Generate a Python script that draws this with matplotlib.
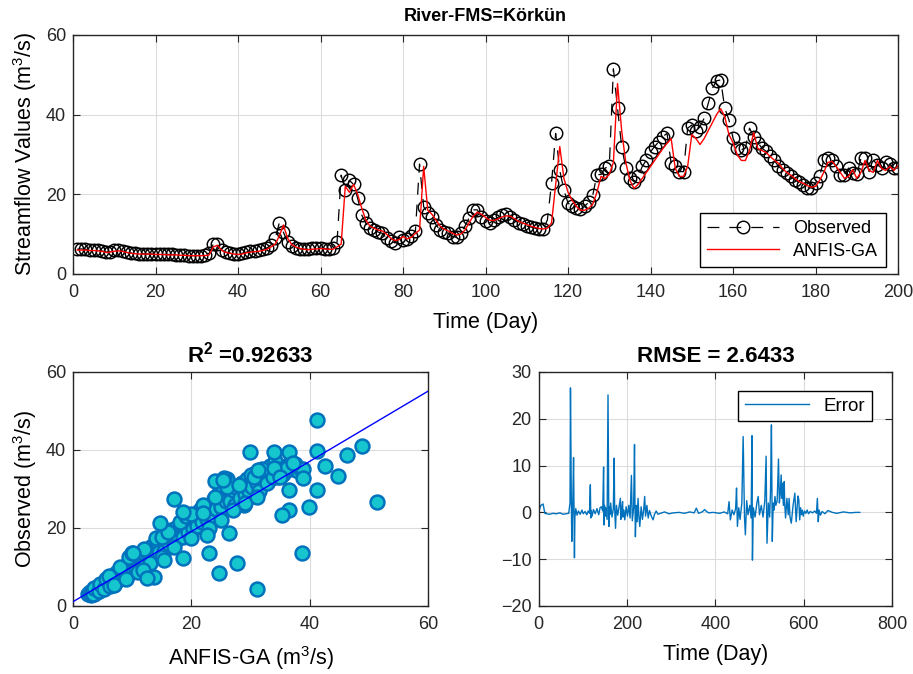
import matplotlib
matplotlib.use("Agg")
import matplotlib.pyplot as plt

plt.rcParams["font.family"] = ["Liberation Sans", "DejaVu Sans"]
plt.rcParams["mathtext.fontset"] = "custom"
plt.rcParams["mathtext.rm"] = "Liberation Sans"
plt.rcParams["mathtext.bf"] = "Liberation Sans:bold"

# ----------------------------------------------------------------------
# data
# ----------------------------------------------------------------------
days = list(range(1, 201))

observed = [
    6.2, 6.3, 6.2, 6.0, 6.1, 6.0, 5.8, 5.5, 5.6, 5.9,
    6.0, 5.8, 5.4, 5.3, 5.2, 5.1, 5.1, 5.0, 5.0, 5.0,
    5.0, 4.9, 4.9, 4.9, 4.8, 4.8, 4.7, 4.6, 4.6, 4.6,
    4.6, 4.7, 5.2, 7.5, 7.6, 6.0, 5.5, 5.3, 5.0, 4.9,
    5.2, 5.5, 5.7, 5.8, 5.9, 6.2, 6.5, 7.3, 9.0, 12.8,
    10.5, 8.0, 7.0, 6.6, 6.3, 6.2, 6.2, 6.4, 6.5, 6.5,
    6.3, 6.3, 6.5, 8.0, 24.8, 21.0, 23.5, 22.5, 19.0, 14.8,
    12.7, 11.5, 11.1, 10.5, 10.2, 9.0, 8.3, 7.8, 9.2, 8.6,
    8.8, 9.5, 10.8, 27.6, 16.9, 15.2, 14.4, 12.3, 11.1, 10.6,
    10.2, 9.4, 9.2, 10.2, 12.0, 14.0, 16.1, 16.1, 14.4, 13.2,
    12.8, 13.5, 14.2, 14.8, 15.0, 14.2, 13.5, 12.8, 12.5, 12.0,
    11.8, 11.5, 11.2, 11.2, 13.6, 22.8, 35.3, 26.0, 21.0, 17.8,
    17.0, 16.5, 16.2, 17.0, 18.0, 19.8, 24.9, 25.0, 26.6, 27.0,
    51.5, 41.6, 32.0, 26.6, 24.0, 23.2, 24.5, 27.0, 28.6, 30.7,
    32.0, 33.2, 34.5, 35.3, 27.8, 27.0, 25.7, 25.7, 36.6, 37.4,
    35.8, 37.0, 39.1, 42.9, 46.6, 48.5, 48.7, 41.6, 38.7, 34.1,
    31.6, 31.2, 31.6, 36.6, 34.5, 33.0, 31.6, 30.8, 29.6, 28.6,
    27.0, 26.2, 25.3, 24.5, 23.6, 23.0, 22.4, 21.6, 21.6, 22.8,
    24.5, 28.6, 29.0, 28.6, 27.0, 24.9, 24.9, 26.6, 25.3, 25.0,
    29.0, 29.0, 25.7, 28.6, 27.4, 26.6, 28.2, 27.5, 26.6, 26.6,
]

anfis_ga = [
    6.0, 6.0, 6.0, 5.9, 5.9, 5.8, 5.7, 5.4, 5.5, 5.7,
    5.8, 5.7, 5.4, 5.2, 5.1, 5.0, 5.0, 5.0, 5.0, 4.9,
    4.9, 4.9, 4.8, 4.8, 4.8, 4.7, 4.7, 4.6, 4.6, 4.6,
    4.6, 4.6, 4.8, 6.8, 7.2, 6.0, 5.4, 5.2, 5.0, 4.9,
    5.0, 5.3, 5.5, 5.6, 5.7, 5.9, 6.2, 6.8, 7.5, 9.5,
    12.3, 9.0, 7.4, 6.8, 6.4, 6.2, 6.1, 6.2, 6.3, 6.4,
    6.3, 6.2, 6.2, 6.8, 7.5, 22.0, 20.5, 22.5, 20.0, 16.5,
    13.5, 12.0, 11.5, 11.0, 10.8, 10.0, 9.0, 8.4, 8.6, 9.4,
    8.8, 9.2, 10.2, 11.0, 27.0, 16.0, 15.0, 13.5, 12.0, 11.2,
    10.8, 10.2, 9.8, 10.0, 11.0, 12.8, 14.5, 15.5, 15.0, 14.2,
    13.5, 13.4, 13.8, 14.3, 14.6, 14.5, 13.9, 13.2, 12.8, 12.4,
    12.0, 11.7, 11.4, 11.3, 11.5, 12.8, 22.5, 32.0, 24.0, 20.5,
    18.5, 17.0, 16.0, 16.0, 16.5, 17.5, 20.5, 24.5, 24.0, 25.0,
    28.0, 47.8, 36.0, 28.0, 23.5, 21.5, 22.5, 24.0, 25.5, 27.0,
    28.5, 30.0, 31.5, 32.8, 34.0, 26.5, 24.5, 24.5, 27.0, 35.0,
    34.0, 32.5, 34.0, 36.0, 38.0, 40.0, 41.5, 39.5, 35.0, 33.0,
    30.0, 28.5, 28.5, 31.0, 35.5, 31.5, 31.0, 30.5, 29.5, 28.6,
    27.8, 26.5, 25.5, 24.8, 24.0, 23.2, 22.8, 22.2, 21.8, 22.0,
    23.5, 25.5, 28.0, 28.3, 27.0, 25.5, 24.0, 24.5, 26.2, 24.0,
    25.5, 28.5, 26.0, 25.5, 28.5, 26.5, 26.0, 27.0, 26.0, 27.2,
]

# scatter: (ANFIS-GA prediction, observed) over the whole test set, read approx.
scatter_band = [
    (2.5, 3.0), (2.8, 3.5), (3.0, 2.8), (3.2, 3.9), (3.5, 3.2), (3.7, 4.2),
    (4.0, 3.6), (4.2, 4.8), (4.5, 4.1), (4.8, 5.2), (5.0, 4.6), (5.2, 5.8),
    (5.5, 5.0), (5.8, 6.3), (6.0, 5.6), (6.3, 6.9), (6.6, 6.0), (6.9, 7.4),
    (7.2, 6.5), (7.5, 7.9), (7.8, 7.0), (8.0, 8.6), (8.3, 7.5), (8.6, 9.1),
    (9.0, 8.2), (9.3, 9.8), (9.7, 8.9), (10.0, 10.6), (10.4, 9.6), (10.8, 11.3),
    (11.2, 10.3), (11.6, 12.2), (12.0, 11.0), (12.4, 13.0), (12.8, 11.8),
    (13.2, 14.0), (13.6, 12.5), (14.0, 15.0), (14.4, 13.4), (14.8, 16.2),
    (15.2, 14.5), (15.6, 17.0), (16.0, 15.2), (16.4, 18.0), (16.8, 16.0),
    (17.2, 18.8), (17.6, 17.2), (18.0, 19.8), (18.4, 18.0), (18.8, 20.8),
    (19.2, 18.8), (19.6, 21.5), (20.0, 19.5), (20.4, 22.0), (20.8, 20.2),
    (21.2, 23.0), (21.6, 21.0), (22.0, 24.0), (22.4, 21.8), (22.8, 25.0),
    (23.2, 22.5), (23.6, 26.0), (24.0, 23.5), (24.4, 27.0), (24.8, 24.2),
    (25.2, 28.0), (25.6, 25.0), (26.0, 29.0), (26.4, 25.8), (26.8, 27.5),
    (27.2, 26.5), (27.6, 28.5), (28.0, 27.2), (28.4, 29.5), (28.8, 26.0),
    (29.2, 30.5), (29.6, 28.0), (30.0, 31.5), (30.4, 29.0), (30.8, 32.5),
    (31.2, 30.0), (31.6, 33.5), (32.0, 31.0), (32.5, 34.0), (33.0, 32.0),
    (33.5, 33.5), (34.0, 35.5), (34.5, 33.0), (35.0, 34.5), (36.0, 36.0),
    (37.0, 35.0), (38.0, 34.5),
    (3.3, 3.0), (3.6, 4.5), (4.4, 3.8), (4.6, 5.6), (5.3, 4.4), (5.6, 6.8),
    (6.2, 5.2), (6.5, 7.5), (7.0, 6.2), (7.3, 8.5), (7.9, 6.8), (8.2, 9.5),
    (8.8, 7.8), (9.1, 10.5), (9.6, 8.5), (10.2, 11.8), (10.6, 9.2), (11.0, 12.8),
    (11.4, 10.0), (11.8, 13.5), (12.2, 10.8), (12.6, 14.5), (13.0, 12.0),
    (13.4, 15.5), (13.8, 12.8), (14.2, 16.5), (14.6, 13.8), (15.0, 16.8),
    (15.4, 14.0), (15.8, 18.5), (16.2, 15.8), (16.6, 19.5), (17.0, 16.5),
    (17.4, 20.0), (17.8, 17.5), (18.2, 21.0), (18.6, 17.8), (19.0, 21.8),
    (19.4, 19.0), (19.8, 22.8), (20.2, 19.8), (20.6, 23.5), (21.0, 20.5),
    (21.4, 24.5), (21.8, 21.5), (22.2, 25.5), (22.6, 22.2), (23.0, 24.5),
    (23.4, 23.0), (23.8, 27.5), (24.2, 24.8), (24.6, 29.0), (25.0, 25.5),
    (25.4, 30.0), (25.8, 26.8), (26.2, 31.0), (26.6, 27.0), (27.0, 29.8),
    (27.4, 26.0), (27.8, 30.0), (28.2, 27.8), (28.6, 31.5), (29.0, 28.8),
    (29.4, 32.5), (29.8, 29.5), (30.2, 30.5), (30.6, 33.8), (31.0, 31.5),
    (31.4, 29.5), (31.8, 32.8), (32.2, 34.8), (32.8, 31.5), (33.2, 36.0),
    (33.8, 33.0), (34.2, 37.2), (34.8, 35.0), (35.5, 33.8), (36.2, 35.5),
    (37.5, 36.5), (38.5, 35.0), (26.0, 32.5), (24.0, 32.0), (25.5, 32.8),
    (6.0, 7.8), (8.0, 10.0), (9.5, 12.5), (10.0, 13.5), (12.0, 14.5),
    (14.0, 17.5), (15.0, 17.8), (16.0, 19.0), (18.0, 21.5), (19.0, 23.0),
    (20.0, 23.5), (22.0, 26.0), (24.0, 28.0), (26.0, 30.5), (28.0, 31.0),
    (30.0, 33.5), (32.0, 35.0),
    (7.0, 5.5), (9.0, 7.0), (11.0, 8.8), (13.0, 11.0), (15.0, 12.5),
    (17.0, 15.0), (20.0, 17.5), (23.0, 20.0), (25.0, 22.0), (27.0, 24.5),
    (29.0, 26.5), (31.0, 28.0),
]
scatter_outliers = [
    (41.2, 47.6), (48.8, 41.1), (46.2, 38.8), (42.6, 36.0), (44.8, 33.4),
    (41.2, 29.8), (51.3, 26.6), (39.9, 25.5), (36.4, 24.7), (35.3, 23.4),
    (38.6, 13.7), (31.0, 4.3), (27.7, 11.0), (24.6, 8.4), (22.9, 13.5),
    (18.6, 12.2), (26.3, 18.7), (17.0, 27.4), (29.9, 39.4), (33.9, 39.4),
    (36.4, 39.6), (41.2, 39.8), (38.9, 35.1), (38.9, 32.8), (36.4, 29.8),
    (37.2, 36.6), (25.4, 32.4), (14.7, 21.2), (18.6, 24.0), (11.9, 9.2),
    (13.6, 7.5), (12.5, 7.1), (15.3, 11.8), (10.2, 13.7), (22.0, 23.8),
    (22.6, 18.2), (30.5, 33.2), (31.3, 34.9), (33.9, 35.4), (35.0, 33.2),
]
scatter_points = scatter_band + scatter_outliers
scatter_pred = [p for p, _ in scatter_points]
scatter_obs = [o for _, o in scatter_points]

# least-squares line as it appears in the reference
fit_slope = 0.90
fit_intercept = 1.1
fit_x = [0, 60]

# error series (observed - predicted) over the whole test period: (day, error)
error_points = [
    (1, 0.5), (5, 1.5), (10, 1.8), (14, -0.2), (18, -0.3), (25, -0.4),
    (32, -0.2), (40, -0.3), (48, -0.1), (55, -0.4), (62, -0.3), (68, -0.2),
    (71, 2.0), (72, 26.6), (74, 2.0), (75, -6.2), (77, 1.0), (79, 11.7),
    (81, -9.7), (82, -1.0), (84, 0.8), (87, -0.6), (90, 0.3), (94, -0.4),
    (98, 0.5), (101, -0.3), (105, 0.2), (109, -0.5), (112, 0.3), (115, -0.2),
    (117, 5.9), (118, -1.2), (119, 0.4), (121, -0.8), (124, 0.6), (128, -0.3),
    (132, 0.8), (136, -0.5), (139, 1.0), (142, 1.2), (145, 0.3), (147, 9.7),
    (148, -2.7), (149, 1.5), (151, -0.8), (152, 1.0), (155, -1.5), (157, 25.1),
    (159, -3.0), (160, 1.2), (161, -0.5), (163, 2.0), (166, -1.0), (169, 0.8),
    (171, 11.6), (172, 1.0), (174, -3.4), (176, 1.5), (179, -0.6), (182, 1.2),
    (185, 3.0), (186, -1.5), (188, 0.8), (190, 2.3), (191, -1.0), (193, 0.5),
    (195, -1.6), (198, 1.2), (201, -0.8), (204, 1.5), (207, -1.2), (210, 7.9),
    (212, -1.8), (215, 1.0), (217, 14.5), (218, 2.0), (219, -5.2), (221, 1.5),
    (223, -2.0), (225, 3.0), (227, -1.0), (229, -3.0), (232, 1.2), (235, -1.5),
    (238, 0.8), (240, 3.4), (242, -0.8), (245, 1.5), (248, -1.2), (251, 0.4),
    (255, -0.8), (259, -1.6), (262, -0.5), (266, 0.3), (270, -0.4), (276, -0.2),
    (285, 0.1), (295, -0.3), (305, -0.1), (318, 0.0), (330, -0.2), (342, 0.1),
    (352, -0.1), (357, 0.9), (362, -0.2), (370, 0.1), (376, 0.6), (380, 0.2),
    (385, -0.1), (395, 0.0), (410, -0.2), (420, 0.1), (428, -0.3), (431, 2.3),
    (434, -1.6), (438, 0.5), (442, -0.5), (446, 0.8), (448, 5.2), (450, -3.0),
    (453, 1.0), (456, -1.5), (460, 2.0), (463, 16.2), (466, -1.0), (468, -4.8),
    (471, 2.5), (474, -0.5), (478, 1.5), (481, -1.2), (483, 16.4), (484, -10.2),
    (486, 1.0), (490, -1.0), (494, 2.0), (497, 3.4), (500, -0.5), (504, 1.5),
    (508, -1.0), (512, 2.5), (515, 12.0), (516, 1.0), (517, -6.6), (520, 2.0),
    (523, -1.0), (525, 4.8), (527, 18.7), (529, -6.2), (531, 2.0), (533, 0.5),
    (535, 3.4), (537, 1.5), (540, 2.5), (543, 11.4), (545, 2.0), (547, 4.0),
    (549, 8.0), (551, 3.0), (552, 6.2), (554, 1.5), (556, 6.6), (557, 2.0),
    (559, -1.2), (562, 3.0), (565, -0.5), (567, 3.0), (569, -1.0), (572, -2.3),
    (576, 1.5), (580, 4.1), (583, -2.0), (587, 3.5), (589, 2.7), (591, -1.6),
    (593, 1.0), (595, -0.5), (597, 0.5), (599, -0.8), (602, 0.3), (605, -0.2),
    (608, 0.5), (611, -0.3), (615, 0.2), (620, -0.1), (625, 0.3), (629, -0.2),
    (631, 3.0), (633, -2.0), (635, 0.5), (638, -0.6), (642, 0.2), (648, -0.3),
    (655, 0.4), (665, 0.0), (675, -0.2), (690, 0.1), (705, -0.1), (718, 0.0),
    (727, 0.0),
]
error_day = [d for d, _ in error_points]
error_err = [e for _, e in error_points]

# ----------------------------------------------------------------------
# plotting helpers
# ----------------------------------------------------------------------
BLUE = "#0072BD"
GRID = "#dcdcdc"
TICK_FS = 13
LABEL_FS = 15.5


def matlab_axes(ax):
    """Box on, inward ticks on every side, light grid - the MATLAB look."""
    ax.grid(True, color=GRID, linewidth=0.8)
    ax.set_axisbelow(True)
    ax.tick_params(direction="in", top=True, right=True, labelsize=TICK_FS,
                   length=5, width=0.8, colors="#262626")
    ax.tick_params(axis="x", pad=7)
    ax.tick_params(axis="y", pad=5)
    for s in ax.spines.values():
        s.set_linewidth(1.0)
        s.set_color("#262626")


fig = plt.figure(figsize=(9.13, 6.74), dpi=100)

# ---- top: time series ----
ax1 = fig.add_axes([0.080, 0.5935, 0.9036, 0.3546])
ax1.plot(days, observed, linestyle=(0, (9.5, 8)), color="black", linewidth=0.9,
         marker="o", markersize=9, markerfacecolor="none",
         markeredgecolor="black", markeredgewidth=1.05, label="Observed")
ax1.plot(days, anfis_ga, color="red", linewidth=1.0, label="ANFIS-GA")
ax1.set_xlim(0, 200)
ax1.set_ylim(0, 60)
ax1.set_xticks(range(0, 201, 20))
ax1.set_yticks(range(0, 61, 20))
matlab_axes(ax1)
ax1.set_xlabel("Time (Day)", fontsize=LABEL_FS, labelpad=8)
ax1.set_ylabel("Streamflow Values (m$^{3}$/s)", fontsize=LABEL_FS, labelpad=5)
ax1.set_title("River-FMS=Körkün", fontsize=13, fontweight="bold", pad=10)
leg = ax1.legend(loc="lower right", fontsize=13, fancybox=False,
                 edgecolor="black", framealpha=1, handlelength=4,
                 borderpad=0.4, borderaxespad=0, labelspacing=0.3,
                 bbox_to_anchor=(0.985, 0.03))
leg.get_frame().set_linewidth(1.0)

# ---- bottom left: scatter ----
ax2 = fig.add_axes([0.080, 0.1009, 0.389, 0.3472])
ax2.scatter(scatter_pred, scatter_obs, s=100, facecolor="#16C6CE",
            edgecolor=BLUE, linewidth=1.8, zorder=2)
ax2.plot(fit_x, [fit_slope * x + fit_intercept for x in fit_x],
         color="blue", linewidth=1.0, zorder=3)
ax2.set_xlim(0, 60)
ax2.set_ylim(0, 60)
ax2.set_xticks(range(0, 61, 20))
ax2.set_yticks(range(0, 61, 20))
matlab_axes(ax2)
ax2.set_xlabel("ANFIS-GA (m$^{3}$/s)", fontsize=LABEL_FS, labelpad=8)
ax2.set_ylabel("Observed (m$^{3}$/s)", fontsize=LABEL_FS, labelpad=5)
ax2.set_title(r"R$^{\mathbf{2}}$ =0.92633", fontsize=16, fontweight="bold", pad=7)

# ---- bottom right: error ----
ax3 = fig.add_axes([0.590, 0.1009, 0.387, 0.3472])
ax3.plot(error_day, error_err, color=BLUE, linewidth=1.0, label="Error")
ax3.set_xlim(0, 800)
ax3.set_ylim(-20, 30)
ax3.set_xticks(range(0, 801, 200))
ax3.set_yticks(range(-20, 31, 10))
matlab_axes(ax3)
ax3.set_xlabel("Time (Day)", fontsize=LABEL_FS, labelpad=8)
ax3.set_title("RMSE = 2.6433", fontsize=16, fontweight="bold", pad=7)
leg3 = ax3.legend(loc="upper right", fontsize=13.5, fancybox=False,
                  edgecolor="black", framealpha=1, handlelength=3.4,
                  borderpad=0.35, borderaxespad=0,
                  bbox_to_anchor=(0.943, 0.919))
leg3.get_frame().set_linewidth(1.0)

fig.savefig("out.png", dpi=100)
